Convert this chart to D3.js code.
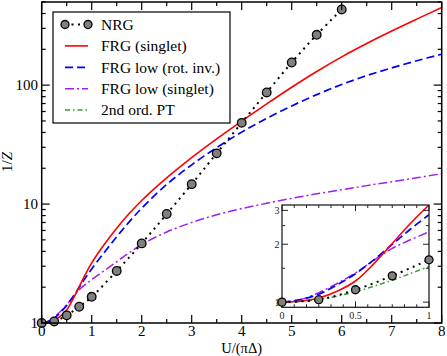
<!DOCTYPE html>
<html><head><meta charset="utf-8">
<script src="https://cdn.jsdelivr.net/npm/d3@7"></script>
<style>body{margin:0;background:#fff}svg{display:block}text{font-family:"Liberation Serif","Times New Roman",serif}</style>
</head><body><svg id="c" width="447" height="356"></svg>
<script>
// ---- data ----
const nrgX = [0,0.25,0.5,0.75,1,1.5,2,2.5,3,3.5,4,4.5,5,5.5,6];
const nrgY = [1,1.03,1.16,1.37,1.66,2.74,4.67,8.25,14.7,26.7,48.2,86.8,155,265,433];
const frgX = [0,0.125,0.25,0.375,0.5,0.625,0.75,0.875,1,1.25,1.5,1.75,2,2.5,3,3.5,4,4.5,5,5.5,6,6.5,7,7.5,8];
const frgSinglet = [1,1.01,1.05,1.14,1.288,1.585,2.02,2.57,3.2,4.57,6.27,8.32,10.72,16.6,24.55,35.28,49.83,69.58,96.05,130.3,172.9,223.9,285.1,358.9,449.3];
const frgLowRot = [1,1.03,1.10,1.23,1.406,1.66,1.995,2.40,2.85,3.91,5.31,7.08,9.23,14.62,21.38,29.85,40.27,52.48,66.83,83.18,101.2,120.2,139.6,160.3,182.0];
const frgLowSinglet = [1,1.03,1.12,1.25,1.42,1.65,1.905,2.11,2.32,2.75,3.27,3.89,4.57,5.82,7.0,8.13,9.16,10.16,11.17,12.19,13.21,14.29,15.42,16.63,17.99];
const ptX = [0,0.125,0.25,0.375,0.5,0.625,0.75,0.875,1];
const ptY = [1,1.008,1.033,1.075,1.133,1.21,1.30,1.41,1.53];
const xTicks = [0,1,2,3,4,5,6,7,8];
const yTicks = [1,10,100];
const insetXTicks = [0,0.5,1];
const insetYTicks = [1,2,3];
const legendLabels = ["NRG","FRG (singlet)","FRG low (rot. inv.)","FRG low (singlet)","2nd ord. PT"];

const svg = d3.select("#c");
const M = {l:41.7, r:441.7, t:2, b:323};
const x = d3.scaleLinear().domain([0,8]).range([M.l,M.r]);
const y = d3.scaleLog().domain([1,500]).range([M.b,M.t]);

const styles = {
  red:{stroke:"#ff0000", w:1.6, dash:null},
  blue:{stroke:"#0000ff", w:1.7, dash:"8,4"},
  violet:{stroke:"#a020f0", w:1.5, dash:"9,3,2,3"},
  green:{stroke:"#2ca02c", w:1.5, dash:"5,3,1.5,3"},
  nrg:{stroke:"#000", w:2, dash:"2,4.5"}
};

function addClip(id, x0,y0,w,h){
  svg.append("defs").append("clipPath").attr("id",id).append("rect").attr("x",x0).attr("y",y0).attr("width",w).attr("height",h);
}
addClip("mainclip", M.l, M.t, M.r-M.l, M.b-M.t);

function drawLine(g, xs, ys, sx, sy, st){
  const line = d3.line().x((d,i)=>sx(xs[i])).y(d=>sy(d)).curve(d3.curveCatmullRom.alpha(0.5));
  g.append("path").attr("d", line(ys)).attr("fill","none")
   .attr("stroke",st.stroke).attr("stroke-width",st.w)
   .attr("stroke-dasharray",st.dash);
}
function drawMarkers(g, xs, ys, sx, sy, r){
  g.selectAll(null).data(ys).enter().append("circle")
   .attr("cx",(d,i)=>sx(xs[i])).attr("cy",d=>sy(d)).attr("r",r)
   .attr("fill","#808080").attr("stroke","#000").attr("stroke-width",1.3);
}

// main curves
const gm = svg.append("g").attr("clip-path","url(#mainclip)");
drawLine(gm, frgX, frgLowSinglet, x, y, styles.violet);
drawLine(gm, frgX, frgLowRot, x, y, styles.blue);
drawLine(gm, frgX, frgSinglet, x, y, styles.red);
drawLine(gm, nrgX, nrgY, x, y, styles.nrg);
drawMarkers(svg.append("g"), nrgX, nrgY, x, y, 4.3);

// main frame & ticks
svg.append("rect").attr("x",M.l).attr("y",M.t).attr("width",M.r-M.l).attr("height",M.b-M.t)
  .attr("fill","none").attr("stroke","#000").attr("stroke-width",1.5);

const gx = svg.append("g");
const xMinor = d3.range(0,8.01,0.5);
xMinor.forEach(v=>{
  const major = Math.abs(v-Math.round(v))<1e-6;
  const len = major?8:4;
  gx.append("line").attr("x1",x(v)).attr("x2",x(v)).attr("y1",M.b).attr("y2",M.b-len).attr("stroke","#000").attr("stroke-width",1.2);
  gx.append("line").attr("x1",x(v)).attr("x2",x(v)).attr("y1",M.t).attr("y2",M.t+len).attr("stroke","#000").attr("stroke-width",1.2);
});
xTicks.forEach(v=>{
  gx.append("text").attr("x",x(v)).attr("y",335.5).attr("text-anchor","middle").attr("font-size",15).text(v);
});
const yMinor = [];
[1,10,100].forEach(d=>{for(let k=1;k<10;k++){const v=d*k; if(v<=500) yMinor.push(v);}});
yMinor.forEach(v=>{
  const major = yTicks.includes(v);
  const len = major?8:4;
  gx.append("line").attr("x1",M.l).attr("x2",M.l+len).attr("y1",y(v)).attr("y2",y(v)).attr("stroke","#000").attr("stroke-width",1.2);
  gx.append("line").attr("x1",M.r).attr("x2",M.r-len).attr("y1",y(v)).attr("y2",y(v)).attr("stroke","#000").attr("stroke-width",1.2);
});
yTicks.forEach(v=>{
  gx.append("text").attr("x",38).attr("y",y(v)+5).attr("text-anchor","end").attr("font-size",15).text(v);
});
svg.append("text").attr("x",241.7).attr("y",352.5).attr("text-anchor","middle").attr("font-size",14.5).text("U/(πΔ)");
const yl = svg.append("text").attr("transform","translate(12,162) rotate(-90)").attr("text-anchor","middle").attr("font-size",15);
yl.append("tspan").text("1/");
yl.append("tspan").attr("font-style","italic").text("Z");

// legend
const L = {x:53, y:12, w:177, h:111};
const gl = svg.append("g");
gl.append("rect").attr("x",L.x).attr("y",L.y).attr("width",L.w).attr("height",L.h).attr("fill","#fff").attr("stroke","#000").attr("stroke-width",1.2);
const legStyles = [styles.nrg, styles.red, styles.blue, styles.violet, styles.green];
legendLabels.forEach((lab,i)=>{
  const yy = 24.5 + i*21.4;
  const st = legStyles[i];
  gl.append("line").attr("x1",65).attr("x2",88).attr("y1",yy).attr("y2",yy)
    .attr("stroke",st.stroke).attr("stroke-width",st.w).attr("stroke-dasharray",st.dash);
  if(i===0){
    [65,88].forEach(cx=>gl.append("circle").attr("cx",cx).attr("cy",yy).attr("r",4).attr("fill","#808080").attr("stroke","#000").attr("stroke-width",1.3));
  }
  gl.append("text").attr("x",101).attr("y",yy+5.2).attr("font-size",15.5).text(lab);
});

// inset
const I = {l:282, r:429, t:205, b:307.3};
const xi = d3.scaleLinear().domain([0,1]).range([I.l,I.r]);
const yi = d3.scaleLog().domain([0.94,3.2]).range([I.b,I.t]);
svg.append("rect").attr("x",I.l).attr("y",I.t).attr("width",I.r-I.l).attr("height",I.b-I.t).attr("fill","#fff");
addClip("insetclip", I.l, I.t, I.r-I.l, I.b-I.t);
const gi = svg.append("g").attr("clip-path","url(#insetclip)");
drawLine(gi, ptX, ptY, xi, yi, styles.green);
drawLine(gi, frgX.slice(0,9), frgLowSinglet.slice(0,9), xi, yi, styles.violet);
drawLine(gi, frgX.slice(0,9), frgLowRot.slice(0,9), xi, yi, styles.blue);
drawLine(gi, frgX.slice(0,9), frgSinglet.slice(0,9), xi, yi, styles.red);
drawLine(gi, nrgX.slice(0,5), nrgY.slice(0,5), xi, yi, styles.nrg);
svg.append("rect").attr("x",I.l).attr("y",I.t).attr("width",I.r-I.l).attr("height",I.b-I.t)
  .attr("fill","none").attr("stroke","#222").attr("stroke-width",1.3);
const gti = svg.append("g");
d3.range(0,13).forEach(k=>{
  const v = k/12;
  const major = (k%6===0);
  const len = major?6:3;
  gti.append("line").attr("x1",xi(v)).attr("x2",xi(v)).attr("y1",I.b).attr("y2",I.b-len).attr("stroke","#222").attr("stroke-width",1);
  gti.append("line").attr("x1",xi(v)).attr("x2",xi(v)).attr("y1",I.t).attr("y2",I.t+len).attr("stroke","#222").attr("stroke-width",1);
});
[1,1.5,2,2.5,3].forEach(v=>{
  const major = insetYTicks.includes(v);
  const len = major?6:3;
  gti.append("line").attr("x1",I.l).attr("x2",I.l+len).attr("y1",yi(v)).attr("y2",yi(v)).attr("stroke","#222").attr("stroke-width",1);
  gti.append("line").attr("x1",I.r).attr("x2",I.r-len).attr("y1",yi(v)).attr("y2",yi(v)).attr("stroke","#222").attr("stroke-width",1);
});
insetXTicks.forEach(v=>{
  gti.append("text").attr("x",xi(v)).attr("y",319).attr("text-anchor","middle").attr("font-size",10).attr("fill","#222").text(v);
});
insetYTicks.forEach(v=>{
  gti.append("text").attr("x",279.5).attr("y",yi(v)+3.5).attr("text-anchor","end").attr("font-size",10).attr("fill","#222").text(v);
});
drawMarkers(svg.append("g"), nrgX.slice(0,5), nrgY.slice(0,5), xi, yi, 4);
</script></body></html>
